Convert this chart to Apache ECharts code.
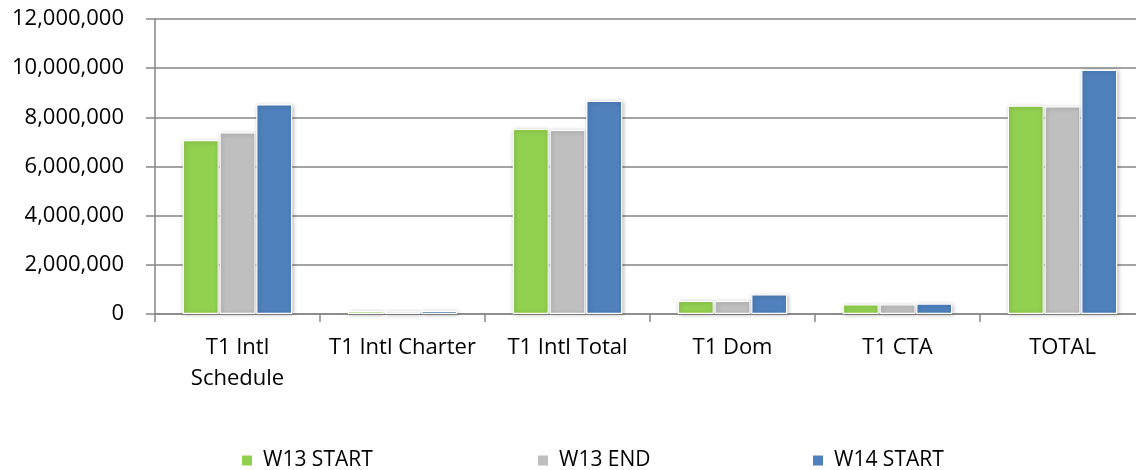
<!DOCTYPE html>
<html>
<head>
<meta charset="utf-8">
<script src="https://cdn.jsdelivr.net/npm/echarts@6/dist/echarts.min.js"></script>
<style>html,body{margin:0;padding:0;background:#fff}#c{width:1136px;height:470px}</style>
</head>
<body>
<div id="c"></div>
<script>
const categories = ['T1 Intl\nSchedule', 'T1 Intl Charter', 'T1 Intl Total', 'T1 Dom', 'T1 CTA', 'TOTAL'];
const w13Start = [7080000, 120000, 7530000, 540000, 390000, 8480000];
const w13End   = [7390000, 110000, 7490000, 540000, 390000, 8450000];
const w14Start = [8530000, 135000, 8670000, 800000, 430000, 9930000];
const seriesNames = ['W13 START', 'W13 END', 'W14 START'];
const colors = ['#92D050', '#BFBFBF', '#4F81BD'];
const yTicks = { min: 0, max: 12000000, interval: 2000000 };

const FONT = 'Open Sans';
const chart = echarts.init(document.getElementById('c'), null, { renderer: 'canvas' });
const values = [w13Start, w13End, w14Start];
const legendLefts = [240, 536, 811];

chart.setOption({
  animation: false,
  textStyle: { fontFamily: FONT },
  grid: { left: 155, top: 19, height: 295, width: 990, containLabel: false, outerBoundsMode: 'none' },
  legend: seriesNames.map((n, i) => ({
    data: [n], left: legendLefts[i], top: 450, padding: 0, icon: 'rect', itemWidth: 12, itemHeight: 12, itemGap: 8,
    textStyle: { fontSize: 21, color: '#000', fontFamily: FONT, padding: [0, 0, 0, 5] }
  })),
  xAxis: {
    type: 'category', data: categories,
    axisLine: { lineStyle: { color: '#868686', width: 1.5 } },
    axisTick: { show: true, length: 8, lineStyle: { color: '#868686', width: 1.5 } },
    axisLabel: { color: '#000', fontSize: 22, margin: 18, lineHeight: 31, interval: 0, fontFamily: FONT }
  },
  yAxis: {
    type: 'value', min: yTicks.min, max: yTicks.max, interval: yTicks.interval,
    axisLine: { show: true, lineStyle: { color: '#868686', width: 1.5 } },
    axisTick: { show: true, length: 9, lineStyle: { color: '#868686', width: 1.5 } },
    splitLine: { lineStyle: { color: '#868686', width: 1.5 } },
    axisLabel: { color: '#000', fontSize: 22, margin: 31, fontFamily: FONT,
      formatter: v => v.toLocaleString('en-US') }
  },
  series: seriesNames.map((n, i) => ({
    name: n, type: 'bar', data: values[i], barWidth: 36, barGap: '2%',
    itemStyle: { color: colors[i], borderColor: '#fff', borderWidth: 1.2,
      shadowBlur: 4, shadowColor: 'rgba(0,0,0,0.25)', shadowOffsetX: 1, shadowOffsetY: 1 }
  }))
});
</script>
</body>
</html>
